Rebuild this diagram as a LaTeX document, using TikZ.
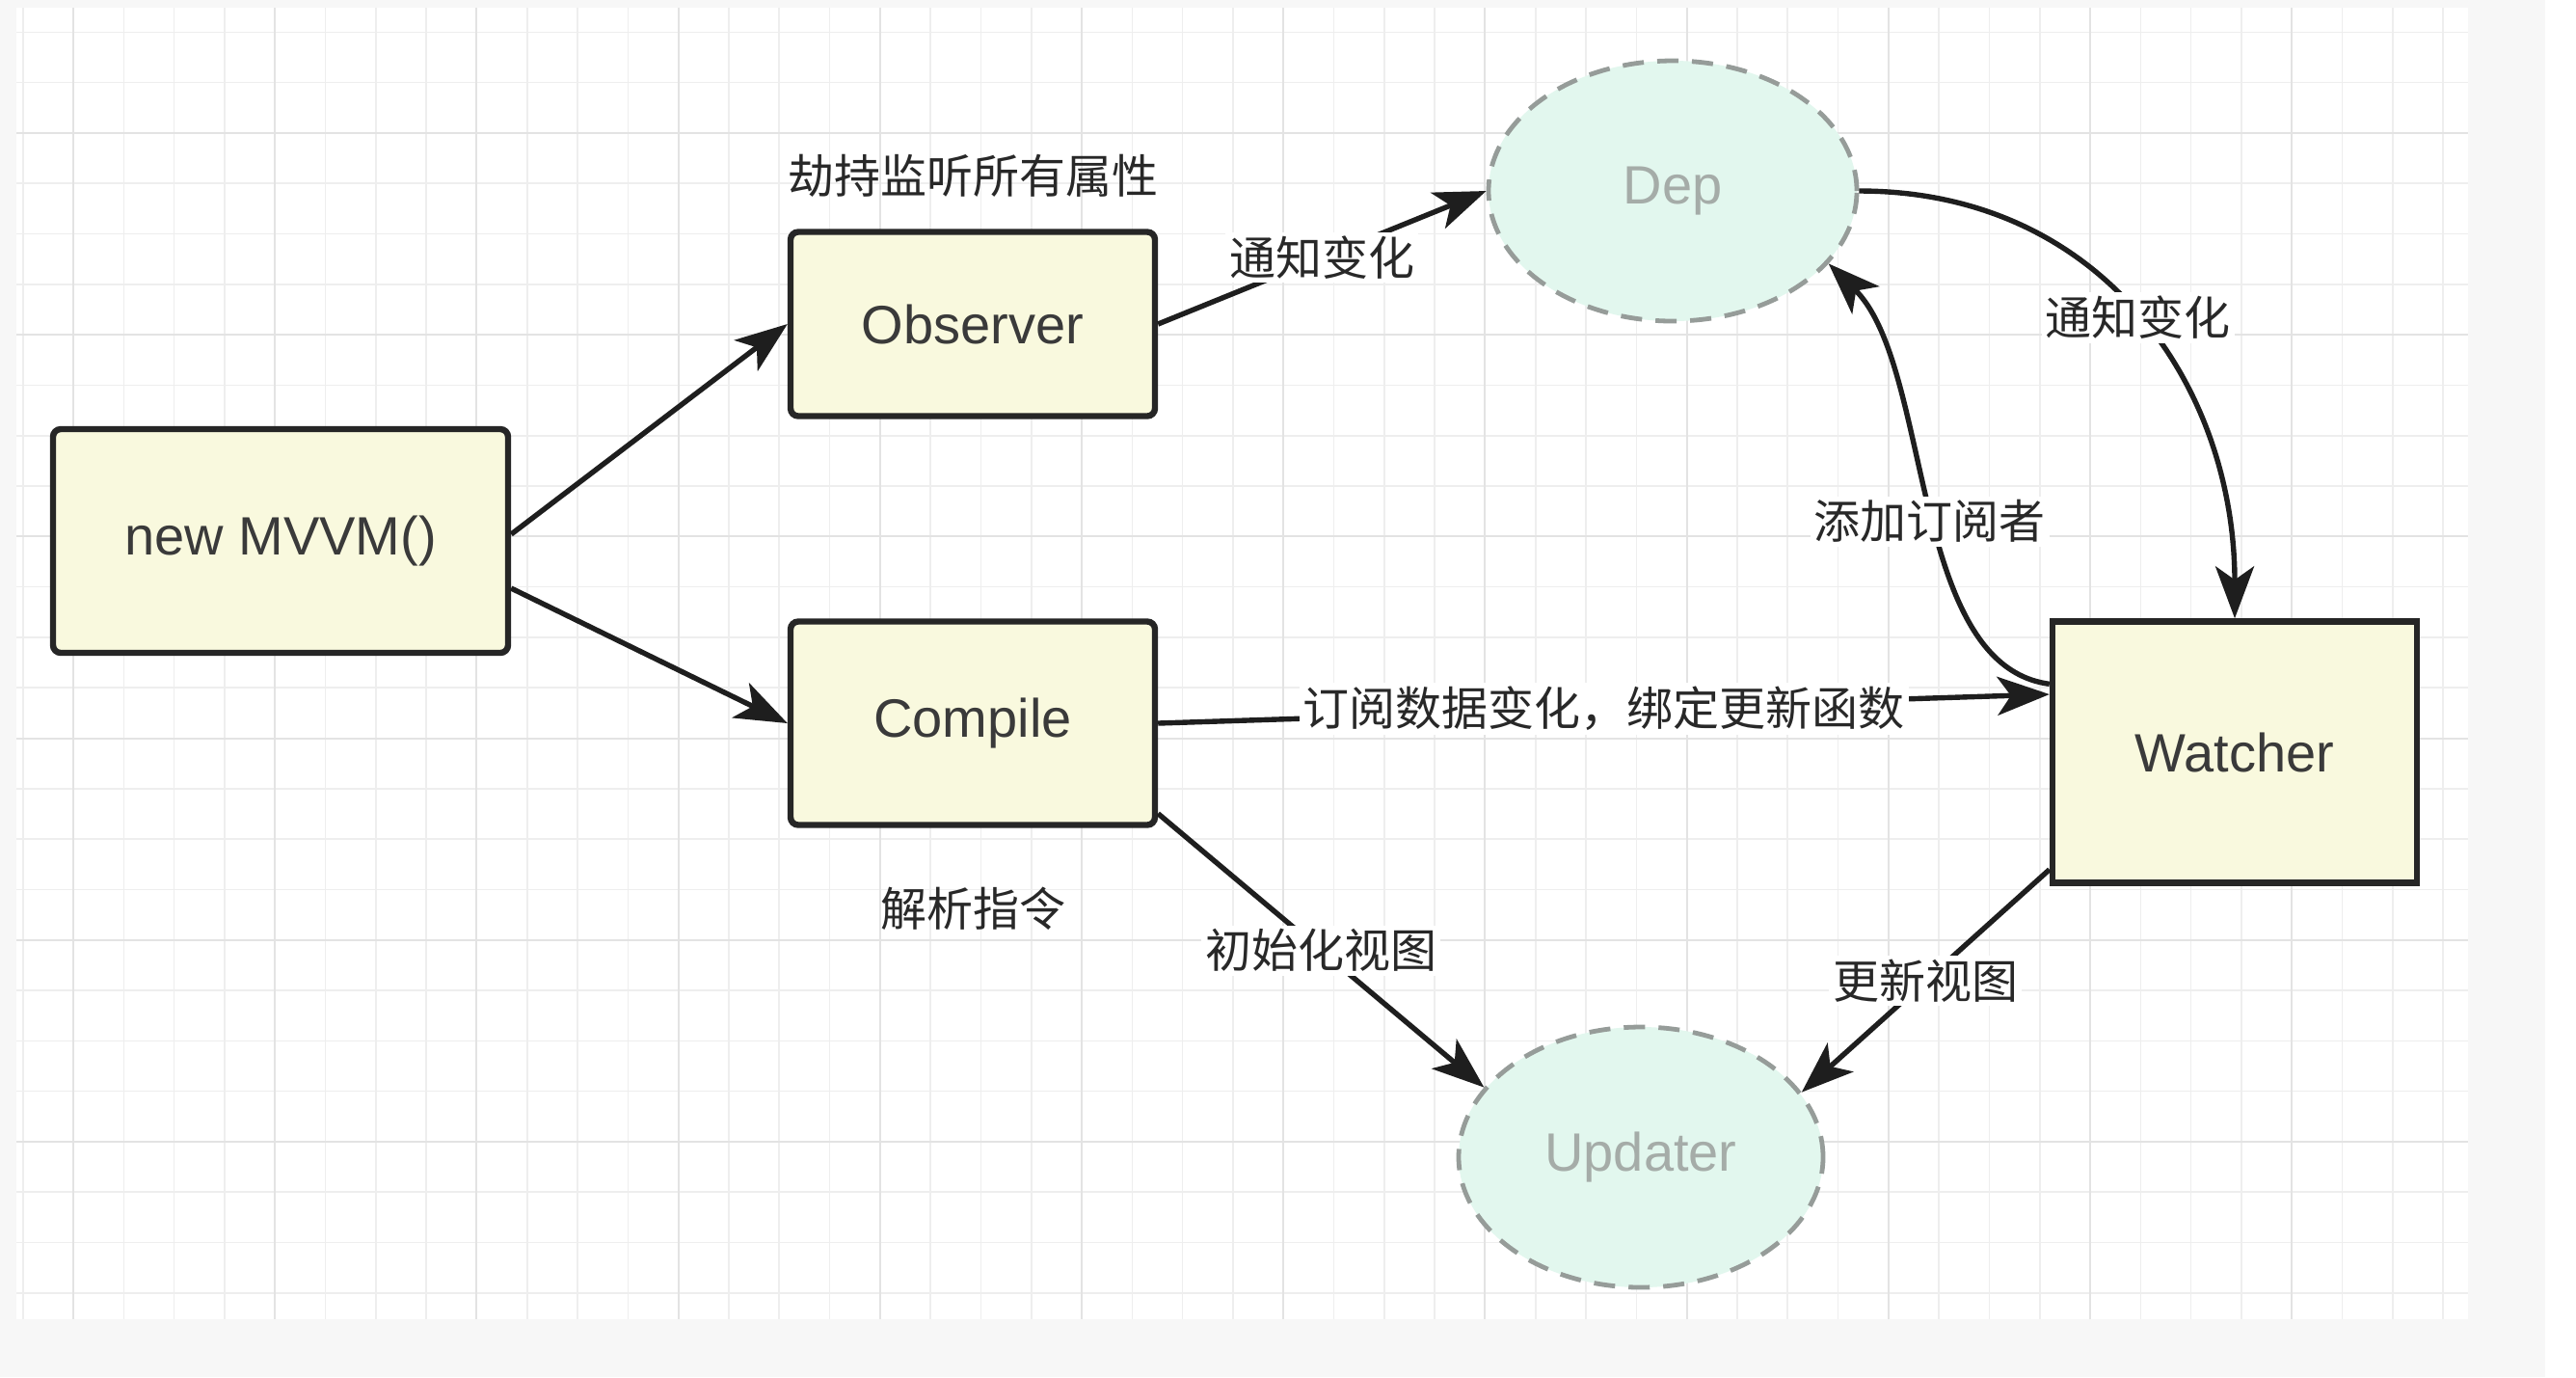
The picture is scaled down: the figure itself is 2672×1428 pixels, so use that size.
\documentclass[tikz,border=0pt]{standalone}
\usepackage{fontspec}
\setmainfont{Liberation Sans}
\newfontfamily\cjk{Noto Sans CJK SC}
\usetikzlibrary{shapes.geometric,arrows.meta,calc}
\definecolor{outerbg}{RGB}{247,247,247}
\definecolor{gridminor}{RGB}{238,238,238}
\definecolor{gridmajor}{RGB}{227,227,227}
\definecolor{boxfill}{RGB}{249,249,222}
\definecolor{boxline}{RGB}{38,38,38}
\definecolor{ellfill}{RGB}{226,247,238}
\definecolor{ellline}{RGB}{150,156,153}
\definecolor{elltxt}{RGB}{165,172,168}
\definecolor{txt}{RGB}{58,58,58}
\definecolor{lbltxt}{RGB}{40,40,40}
\definecolor{arrowc}{RGB}{30,30,30}
\tikzset{
  gline/.style={draw=gridminor, line width=0.4pt},
  gmajor/.style={draw=gridmajor, line width=0.5pt},
  box/.style={rectangle, draw=boxline, fill=boxfill, line width=1.6pt, rounded corners=2pt,
    font=\fontsize{14pt}{16pt}\selectfont, text=txt, inner sep=0pt},
  ell/.style={ellipse, draw=ellline, fill=ellfill, line width=1.2pt, dash pattern=on 5.5pt off 3.5pt,
    font=\fontsize{14pt}{16pt}\selectfont, text=elltxt, inner sep=0pt},
  arr/.style={draw=arrowc, line width=1.35pt, -{Stealth[length=13.5pt,width=10pt,inset=3.5pt]}},
  lbl/.style={font=\cjk\fontsize{12pt}{14pt}\selectfont, text=lbltxt, fill=white, inner sep=1pt},
  freelbl/.style={font=\cjk\fontsize{12pt}{14pt}\selectfont, text=lbltxt, inner sep=0pt},
}
\begin{document}
\begin{tikzpicture}[x=0.25pt,y=-0.25pt]
\useasboundingbox (0,0) rectangle (2672,1428);
% backgrounds
\fill[white] (0,0) rectangle (2672,1428);
\fill[outerbg] (0,0) rectangle (2640,1428);
\fill[white] (17,8) rectangle (2560,1368);
% grid
\foreach \k in {0,...,48} {\draw[gline] ({23.7+52.3*\k},8) -- ({23.7+52.3*\k},1368);}
\foreach \k in {0,...,25} {\draw[gline] (17,{33.3+52.3*\k}) -- (2560,{33.3+52.3*\k});}
\foreach \k in {0,...,11} {\draw[gmajor] ({76+209.2*\k},8) -- ({76+209.2*\k},1368);}
\foreach \k in {0,...,5} {\draw[gmajor] (17,{138+209.2*\k}) -- (2560,{138+209.2*\k});}

% nodes
\node[box, minimum width=118pt, minimum height=58pt] (mvvm) at (291,561) {new MVVM()};
\node[box, minimum width=94.5pt, minimum height=47.75pt] (obs) at (1009,336) {Observer};
\node[box, minimum width=94.5pt, minimum height=52.75pt] (comp) at (1009,750) {Compile};
\node[box, rounded corners=0pt, minimum width=94.5pt, minimum height=67.75pt] (watcher) at (2318,780) {Watcher};
\node[ell, minimum width=95.5pt, minimum height=67.5pt] (dep) at (1735,198) {Dep};
\node[ell, minimum width=94.5pt, minimum height=67.5pt] (upd) at (1702,1200) {Updater};

% free labels
\node[freelbl] (lobs) at (1009,182) {劫持监听所有属性};
\node[freelbl] (lcomp) at (1009,942) {解析指令};

% connectors
\draw[arr] ($(mvvm.east)+(0,-7)$) -- (obs.west);
\draw[arr] ($(mvvm.east)+(0,49)$) -- (comp.west);
\draw[arr] (obs.east) -- node[lbl] {通知变化} (dep.west);
\draw[arr] (dep.east) .. controls (2180,198) and (2318,400) .. node[lbl, pos=0.5] {通知变化} (watcher.north);
\draw[arr] ($(watcher.north west)+(0,68)$) .. controls (1980,690) and (2005,380) .. node[lbl, pos=0.47] {添加订阅者} (dep.-25);
\draw[arr] (comp.east) -- node[lbl] {订阅数据变化，绑定更新函数} ($(watcher.west)+(0,-60)$);
\draw[arr] ($(comp.south east)+(0,-15)$) -- node[lbl] {初始化视图} (upd.156);
\draw[arr] ($(watcher.south west)+(0,-17)$) -- node[lbl] {更新视图} (upd.22);
\end{tikzpicture}
\end{document}
